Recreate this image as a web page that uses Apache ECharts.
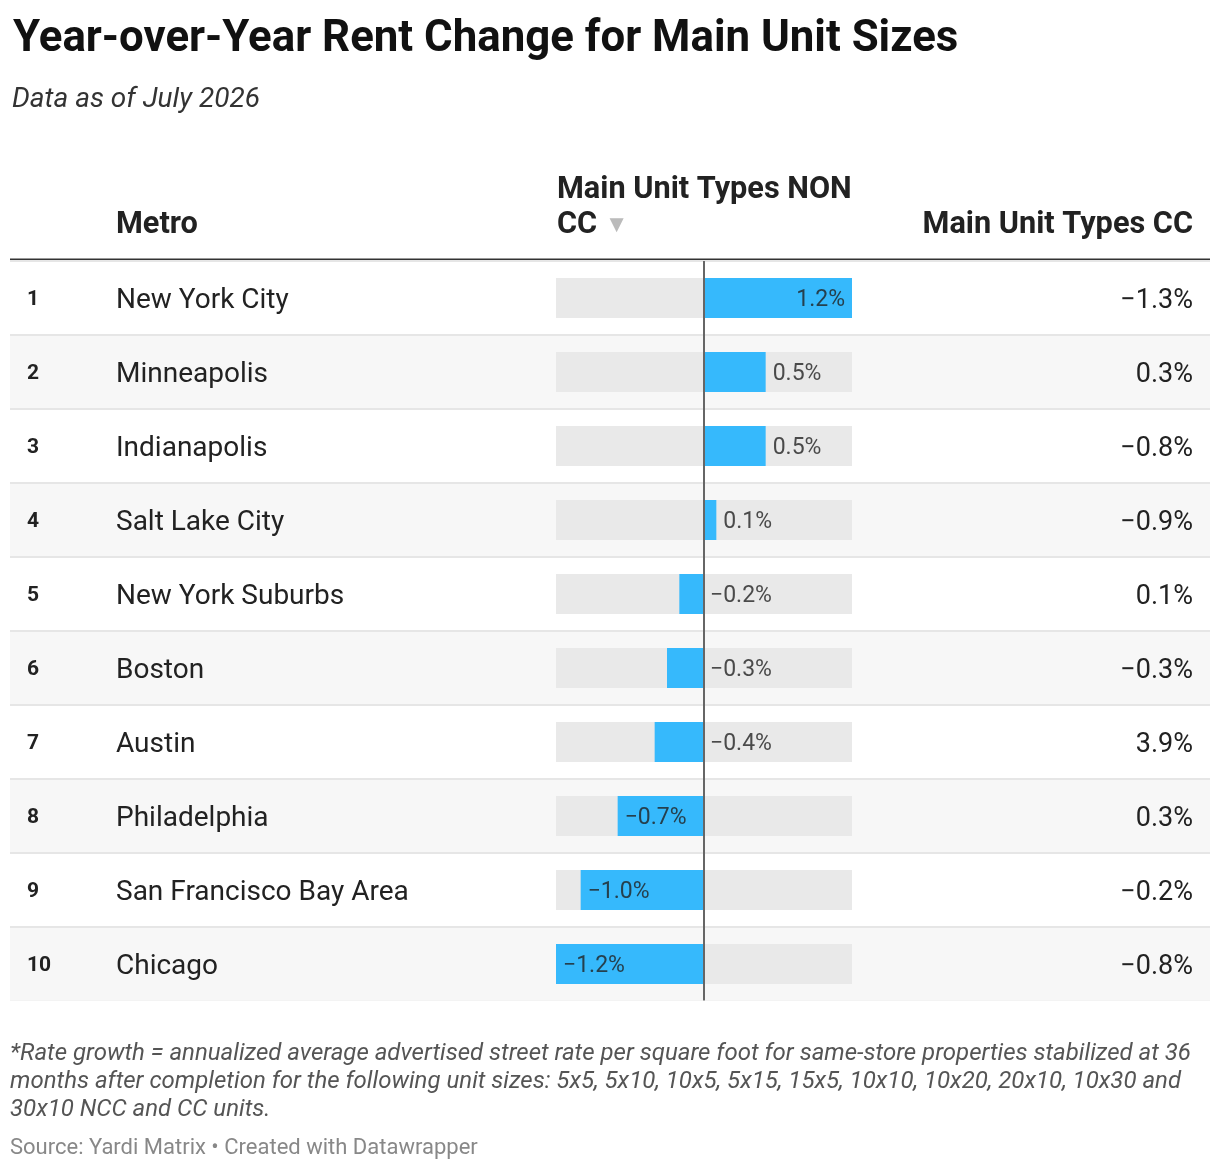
<!DOCTYPE html>
<html>
<head>
<meta charset="utf-8">
<script src="https://cdn.jsdelivr.net/npm/echarts@6/dist/echarts.min.js"></script>
<style>
  html, body { margin: 0; padding: 0; background: #fff; }
  #chart { width: 1220px; height: 1170px; }
</style>
</head>
<body>
<div id="chart"></div>
<script>
// data
const ranks = [1, 2, 3, 4, 5, 6, 7, 8, 9, 10];
const metros = ['New York City', 'Minneapolis', 'Indianapolis', 'Salt Lake City', 'New York Suburbs',
  'Boston', 'Austin', 'Philadelphia', 'San Francisco Bay Area', 'Chicago'];
const nonCC = [1.2, 0.5, 0.5, 0.1, -0.2, -0.3, -0.4, -0.7, -1.0, -1.2];
const cc = [-1.3, 0.3, -0.8, -0.9, 0.1, -0.3, 3.9, 0.3, -0.2, -0.8];

const FONT = 'Roboto';
const BLUE = '#36b9fc';

// 1.2 -> "1.2%", -0.7 -> "−0.7%"
function fmt(v) {
  return (v < 0 ? '\u2212' : '') + Math.abs(v).toFixed(1) + '%';
}

// label goes inside the bar when it fits, otherwise just right of the bar / zero line
function labelPoint(v, i) {
  const inside = Math.abs(v) >= 0.7;
  let x = v, pos = 'right', dist = 7;
  if (v >= 0 && inside) { pos = 'left'; }
  if (v < 0 && !inside) { x = 0; dist = 6; }
  return {
    value: [x, i],
    label: { position: pos, distance: dist, formatter: fmt(v) }
  };
}

const chart = echarts.init(document.getElementById('chart'));

const option = {
  animation: false,
  backgroundColor: '#ffffff',
  textStyle: { fontFamily: FONT },
  title: [
    {
      text: 'Year-over-Year Rent Change for Main Unit Sizes',
      left: 8, top: 13,
      textStyle: { fontFamily: FONT, fontSize: 43.8, fontWeight: 'bold', color: '#111' }
    },
    {
      text: 'Data as of July 2026',
      left: 7, top: 81,
      textStyle: { fontFamily: FONT, fontSize: 28, fontStyle: 'italic', fontWeight: 'normal', color: '#333' }
    }
  ],
  grid: [
    { left: 10, width: 1200, top: 261, height: 740 },   // table rows
    { left: 556, width: 296, top: 261, height: 740 }    // bar column
  ],
  xAxis: [
    { gridIndex: 0, type: 'value', show: false },
    { gridIndex: 1, type: 'value', min: -1.2, max: 1.2, show: false }
  ],
  yAxis: [
    {
      gridIndex: 0, type: 'category', data: metros, inverse: true,
      axisLine: { show: false }, axisTick: { show: false },
      splitArea: { show: true, areaStyle: { color: ['#ffffff', '#f7f7f7'] } },
      splitLine: { show: true, interval: 0, lineStyle: { color: '#e6e6e6', width: 2 } },
      axisLabel: {
        inside: true, margin: 17, interval: 0,
        formatter: (v, i) => '{r|' + ranks[i] + '}{m|' + v + '}',
        rich: {
          r: { width: 89, fontFamily: FONT, fontSize: 21, fontWeight: 'bold', color: '#222', padding: [4, 0, 0, 0] },
          m: { fontFamily: FONT, fontSize: 28, color: '#222', padding: [6, 0, 0, 0] }
        }
      }
    },
    {
      gridIndex: 0, type: 'category', data: metros, inverse: true, position: 'right',
      axisLine: { show: false }, axisTick: { show: false },
      axisLabel: {
        inside: true, margin: 17, interval: 0,
        formatter: (v, i) => '{v|' + fmt(cc[i]) + '}',
        rich: {
          v: { fontFamily: FONT, fontSize: 27, color: '#222', padding: [6, 0, 0, 0] }
        }
      }
    },
    {
      gridIndex: 1, type: 'category', data: metros, inverse: true, show: false
    }
  ],
  series: [
    {
      type: 'bar',
      xAxisIndex: 1, yAxisIndex: 2,
      data: nonCC,
      barWidth: 40,
      itemStyle: { color: BLUE },
      showBackground: true,
      backgroundStyle: { color: '#e9e9e9' },
      markLine: {
        silent: true,
        symbol: ['none', 'none'],
        label: { show: false },
        lineStyle: { color: '#666', width: 2, type: 'solid' },
        data: [{ xAxis: 0 }]
      }
    },
    {
      type: 'scatter',
      xAxisIndex: 1, yAxisIndex: 2,
      symbolSize: 0,
      silent: true,
      data: nonCC.map(labelPoint),
      label: { show: true, fontFamily: FONT, fontSize: 23, color: '#222', offset: [0, 2] }
    }
  ],
  graphic: [
    // column headers
    { type: 'text', left: 116, top: 210, style: { text: 'Metro', font: 'bold 30.7px Roboto', fill: '#222' } },
    { type: 'text', left: 557, top: 175, style: { text: 'Main Unit Types NON', font: 'bold 30.7px Roboto', fill: '#222' } },
    {
      type: 'text', left: 557, top: 210,
      style: {
        text: '{a|CC }{b|\u25BC}',
        rich: {
          a: { font: 'bold 30.7px Roboto', fill: '#222' },
          b: { font: '24px Roboto', fill: '#bbb' }
        }
      }
    },
    { type: 'text', right: 27, top: 210, style: { text: 'Main Unit Types CC', font: 'bold 30.7px Roboto', fill: '#222' } },
    // thick header rule
    { type: 'rect', shape: { x: 10, y: 258.5, width: 1200, height: 3 }, style: { fill: '#333' } },
    // no rule under the last row
    { type: 'rect', z: 100, shape: { x: 10, y: 1000.5, width: 1200, height: 3 }, style: { fill: '#fff' } },
    // notes
    {
      type: 'text', left: 10, top: 1040,
      style: {
        text: '*Rate growth = annualized average advertised street rate per square foot for same-store properties stabilized at 36\n' +
          'months after completion for the following unit sizes: 5x5, 5x10, 10x5, 5x15, 15x5, 10x10, 10x20, 20x10, 10x30 and\n' +
          '30x10 NCC and CC units.',
        font: 'italic 24px Roboto', fill: '#555', lineHeight: 28
      }
    },
    { type: 'text', left: 10, top: 1137, style: { text: 'Source: Yardi Matrix \u2022 Created with Datawrapper', font: '22px Roboto', fill: '#888' } }
  ]
};

chart.setOption(option);
</script>
</body>
</html>
